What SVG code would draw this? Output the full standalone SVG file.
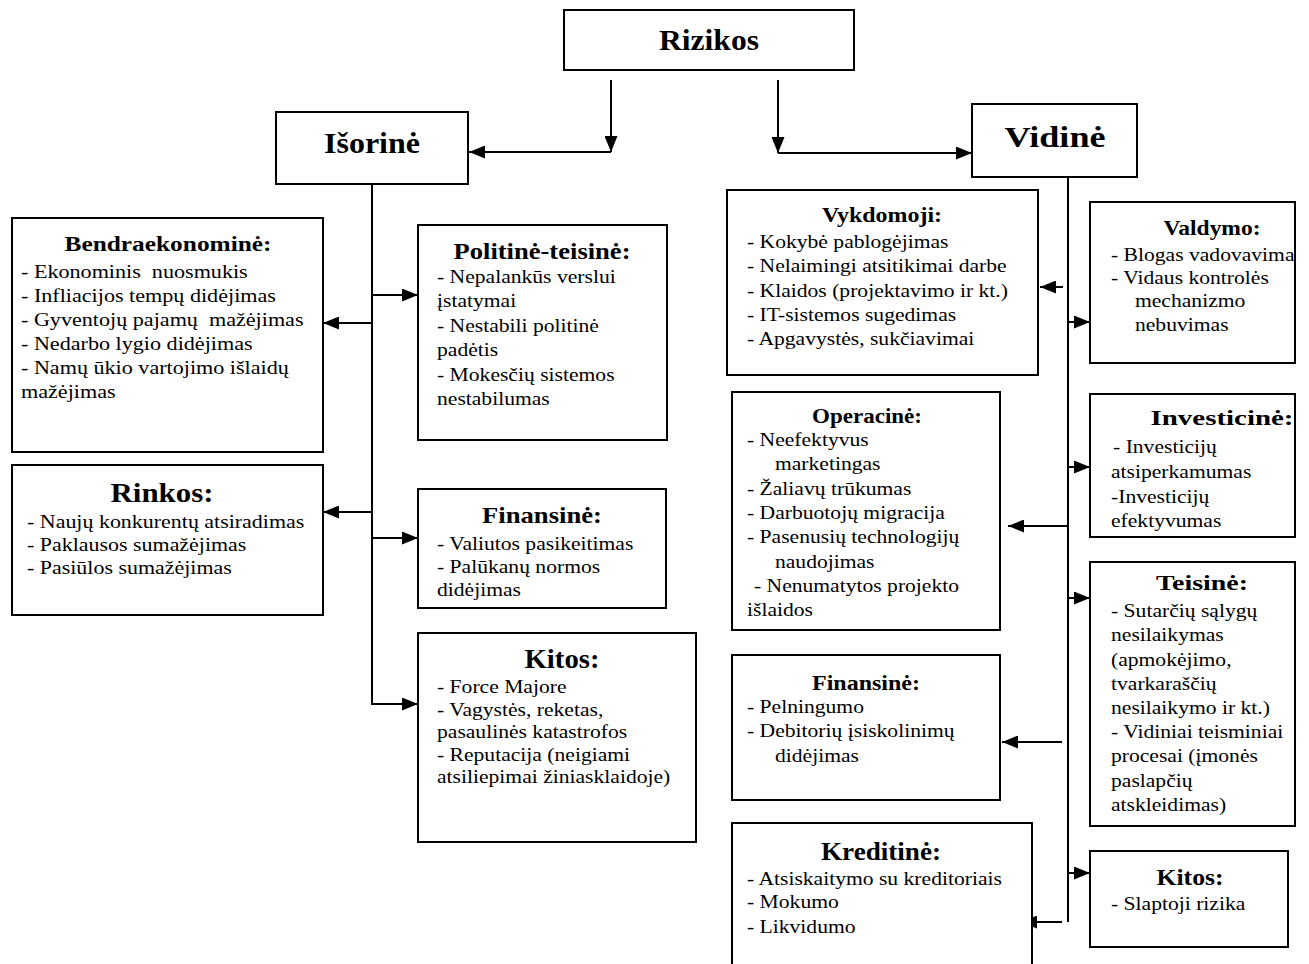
<svg xmlns="http://www.w3.org/2000/svg" width="1309" height="964" viewBox="0 0 1309 964">
<style>
.box{fill:#fff;stroke:#000;stroke-width:2}
.ln{fill:none;stroke:#000;stroke-width:2}
.ar{fill:none;stroke:#000;stroke-width:2;marker-end:url(#ah)}
.h{font-family:"Liberation Serif","Times New Roman",serif;font-weight:bold;text-anchor:middle;fill:#000}
.t{font-family:"Liberation Serif","Times New Roman",serif;font-size:18px;fill:#000}
</style>
<defs>
<marker id="ah" markerUnits="userSpaceOnUse" markerWidth="16" markerHeight="13" refX="16" refY="6.5" orient="auto">
<path d="M0,0 L16,6.5 L0,13 z" fill="#000"/>
</marker>
<clipPath id="clipV"><rect x="1090" y="202" width="205" height="161"/></clipPath>
</defs>
<rect width="1309" height="964" fill="#fff"/>

<g id="connectors">
<line class="ar" x1="611" y1="80" x2="611" y2="152"/>
<line class="ar" x1="611" y1="152" x2="469" y2="152"/>
<line class="ar" x1="778" y1="80" x2="778" y2="153"/>
<line class="ar" x1="778" y1="153" x2="972" y2="153"/>
<line class="ln" x1="372" y1="184" x2="372" y2="705"/>
<line class="ar" x1="372" y1="295" x2="418" y2="295"/>
<line class="ar" x1="372" y1="323" x2="323" y2="323"/>
<line class="ar" x1="372" y1="512" x2="323" y2="512"/>
<line class="ar" x1="372" y1="538" x2="418" y2="538"/>
<line class="ar" x1="372" y1="704" x2="418" y2="704"/>
<line class="ln" x1="1068" y1="177" x2="1068" y2="922"/>
<line class="ar" x1="1063" y1="287" x2="1040" y2="287"/>
<line class="ar" x1="1068" y1="322" x2="1090" y2="322"/>
<line class="ar" x1="1068" y1="467" x2="1090" y2="467"/>
<line class="ar" x1="1068" y1="526" x2="1008" y2="526"/>
<line class="ar" x1="1068" y1="598" x2="1090" y2="598"/>
<line class="ar" x1="1062" y1="742" x2="1002" y2="742"/>
<line class="ar" x1="1068" y1="873" x2="1090" y2="873"/>
<line class="ar" x1="1062" y1="922" x2="1021" y2="922"/>
</g>

<g id="rizikos">
<rect class="box" x="564" y="10" width="290" height="60"/>
<text class="h" x="709" y="50" font-size="30" textLength="100" lengthAdjust="spacingAndGlyphs">Rizikos</text>
</g>
<g id="isorine">
<rect class="box" x="276" y="112" width="192" height="72"/>
<text class="h" x="372" y="153" font-size="30" textLength="96" lengthAdjust="spacingAndGlyphs">Išorinė</text>
</g>
<g id="vidine">
<rect class="box" x="972" y="104" width="165" height="73"/>
<text class="h" x="1055" y="147" font-size="30" textLength="101" lengthAdjust="spacingAndGlyphs">Vidinė</text>
</g>

<g id="bendraekonomine">
<rect class="box" x="12" y="218" width="311" height="234"/>
<text class="h" x="168" y="251" font-size="22" textLength="207" lengthAdjust="spacingAndGlyphs">Bendraekonominė:</text>
<text class="t" transform="matrix(1.23 0 0 1 21 0)">
<tspan x="0" y="278">- Ekonominis&#160; nuosmukis</tspan>
<tspan x="0" y="302">- Infliacijos tempų didėjimas</tspan>
<tspan x="0" y="326">- Gyventojų pajamų&#160; mažėjimas</tspan>
<tspan x="0" y="350">- Nedarbo lygio didėjimas</tspan>
<tspan x="0" y="374">- Namų ūkio vartojimo išlaidų</tspan>
<tspan x="0" y="398">mažėjimas</tspan>
</text>
</g>

<g id="politine-teisine">
<rect class="box" x="418" y="225" width="249" height="215"/>
<text class="h" x="542" y="259" font-size="24" textLength="177" lengthAdjust="spacingAndGlyphs">Politinė-teisinė:</text>
<text class="t" transform="matrix(1.2 0 0 1 437 0)">
<tspan x="0" y="283">- Nepalankūs verslui</tspan>
<tspan x="0" y="307">įstatymai</tspan>
<tspan x="0" y="332">- Nestabili politinė</tspan>
<tspan x="0" y="356">padėtis</tspan>
<tspan x="0" y="381">- Mokesčių sistemos</tspan>
<tspan x="0" y="405">nestabilumas</tspan>
</text>
</g>

<g id="rinkos">
<rect class="box" x="12" y="465" width="311" height="150"/>
<text class="h" x="162" y="502" font-size="28" textLength="103" lengthAdjust="spacingAndGlyphs">Rinkos:</text>
<text class="t" transform="matrix(1.22 0 0 1 27 0)">
<tspan x="0" y="528">- Naujų konkurentų atsiradimas</tspan>
<tspan x="0" y="551">- Paklausos sumažėjimas</tspan>
<tspan x="0" y="574">- Pasiūlos sumažėjimas</tspan>
</text>
</g>

<g id="finansine-isorine">
<rect class="box" x="418" y="489" width="248" height="119"/>
<text class="h" x="542" y="523" font-size="24" textLength="120" lengthAdjust="spacingAndGlyphs">Finansinė:</text>
<text class="t" transform="matrix(1.2 0 0 1 437 0)">
<tspan x="0" y="550">- Valiutos pasikeitimas</tspan>
<tspan x="0" y="573">- Palūkanų normos</tspan>
<tspan x="0" y="596">didėjimas</tspan>
</text>
</g>

<g id="kitos-isorine">
<rect class="box" x="418" y="633" width="278" height="209"/>
<text class="h" x="562" y="668" font-size="27" textLength="75" lengthAdjust="spacingAndGlyphs">Kitos:</text>
<text class="t" transform="matrix(1.2 0 0 1 437 0)">
<tspan x="0" y="693">- Force Majore</tspan>
<tspan x="0" y="716">- Vagystės, reketas,</tspan>
<tspan x="0" y="738">pasaulinės katastrofos</tspan>
<tspan x="0" y="761">- Reputacija (neigiami</tspan>
<tspan x="0" y="783">atsiliepimai žiniasklaidoje)</tspan>
</text>
</g>

<g id="vykdomoji">
<rect class="box" x="727" y="190" width="311" height="185"/>
<text class="h" x="882" y="222" font-size="21" textLength="120" lengthAdjust="spacingAndGlyphs">Vykdomoji:</text>
<text class="t" transform="matrix(1.2 0 0 1 747 0)">
<tspan x="0" y="248">- Kokybė pablogėjimas</tspan>
<tspan x="0" y="272">- Nelaimingi atsitikimai darbe</tspan>
<tspan x="0" y="297">- Klaidos (projektavimo ir kt.)</tspan>
<tspan x="0" y="321">- IT-sistemos sugedimas</tspan>
<tspan x="0" y="345">- Apgavystės, sukčiavimai</tspan>
</text>
</g>

<g id="operacine">
<rect class="box" x="732" y="392" width="268" height="238"/>
<text class="h" x="867" y="423" font-size="21" textLength="110" lengthAdjust="spacingAndGlyphs">Operacinė:</text>
<text class="t" transform="matrix(1.2 0 0 1 747 0)">
<tspan x="0" y="446">- Neefektyvus</tspan>
<tspan x="23.3" y="470">marketingas</tspan>
<tspan x="0" y="495">- Žaliavų trūkumas</tspan>
<tspan x="0" y="519">- Darbuotojų migracija</tspan>
<tspan x="0" y="543">- Pasenusių technologijų</tspan>
<tspan x="23.3" y="568">naudojimas</tspan>
<tspan x="5.8" y="592">- Nenumatytos projekto</tspan>
<tspan x="0" y="616">išlaidos</tspan>
</text>
</g>

<g id="finansine-vidine">
<rect class="box" x="732" y="655" width="268" height="145"/>
<text class="h" x="866" y="690" font-size="21" textLength="108" lengthAdjust="spacingAndGlyphs">Finansinė:</text>
<text class="t" transform="matrix(1.2 0 0 1 747 0)">
<tspan x="0" y="713">- Pelningumo</tspan>
<tspan x="0" y="737">- Debitorių įsiskolinimų</tspan>
<tspan x="23.3" y="762">didėjimas</tspan>
</text>
</g>

<g id="kreditine">
<rect class="box" x="732" y="823" width="300" height="160"/>
<text class="h" x="881" y="860" font-size="25" textLength="120" lengthAdjust="spacingAndGlyphs">Kreditinė:</text>
<text class="t" transform="matrix(1.2 0 0 1 747 0)">
<tspan x="0" y="885">- Atsiskaitymo su kreditoriais</tspan>
<tspan x="0" y="908">- Mokumo</tspan>
<tspan x="0" y="933">- Likvidumo</tspan>
</text>
</g>

<g id="valdymo">
<rect class="box" x="1090" y="202" width="205" height="161"/>
<text class="h" x="1212" y="235" font-size="21" textLength="97" lengthAdjust="spacingAndGlyphs">Valdymo:</text>
<g clip-path="url(#clipV)">
<text class="t" transform="matrix(1.2 0 0 1 1111 0)">
<tspan x="0" y="261">- Blogas vadovavimas</tspan>
<tspan x="0" y="284">- Vidaus kontrolės</tspan>
<tspan x="20" y="307">mechanizmo</tspan>
<tspan x="20" y="331">nebuvimas</tspan>
</text>
</g>
</g>

<g id="investicine">
<rect class="box" x="1090" y="394" width="205" height="143"/>
<text class="h" x="1222" y="425" font-size="22" textLength="143" lengthAdjust="spacingAndGlyphs">Investicinė:</text>
<text class="t" transform="matrix(1.2 0 0 1 1111 0)">
<tspan x="1.7" y="453">- Investicijų</tspan>
<tspan x="0" y="478">atsiperkamumas</tspan>
<tspan x="0" y="503">-Investicijų</tspan>
<tspan x="0" y="527">efektyvumas</tspan>
</text>
</g>

<g id="teisine">
<rect class="box" x="1090" y="562" width="205" height="264"/>
<text class="h" x="1202" y="590" font-size="22" textLength="92" lengthAdjust="spacingAndGlyphs">Teisinė:</text>
<text class="t" transform="matrix(1.2 0 0 1 1111 0)">
<tspan x="0" y="617">- Sutarčių sąlygų</tspan>
<tspan x="0" y="641">nesilaikymas</tspan>
<tspan x="0" y="666">(apmokėjimo,</tspan>
<tspan x="0" y="690">tvarkaraščių</tspan>
<tspan x="0" y="714">nesilaikymo ir kt.)</tspan>
<tspan x="0" y="738">- Vidiniai teisminiai</tspan>
<tspan x="0" y="762">procesai (įmonės</tspan>
<tspan x="0" y="787">paslapčių</tspan>
<tspan x="0" y="811">atskleidimas)</tspan>
</text>
</g>

<g id="kitos-vidine">
<rect class="box" x="1090" y="851" width="198" height="96"/>
<text class="h" x="1190" y="885" font-size="24" textLength="67" lengthAdjust="spacingAndGlyphs">Kitos:</text>
<text class="t" transform="matrix(1.2 0 0 1 1111 0)">
<tspan x="0" y="910">- Slaptoji rizika</tspan>
</text>
</g>
</svg>
